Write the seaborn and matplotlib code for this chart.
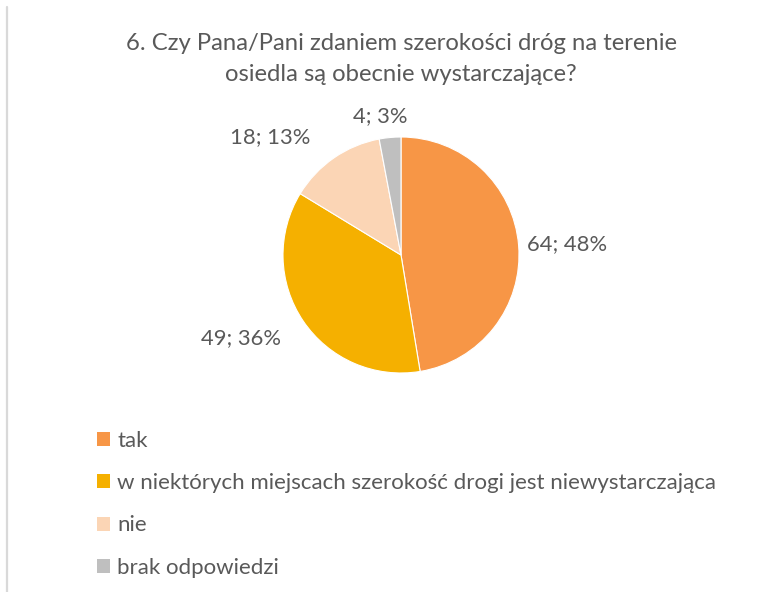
import matplotlib
matplotlib.use("Agg")
import matplotlib.pyplot as plt
from matplotlib.lines import Line2D
from matplotlib.patches import Patch
import seaborn as sns

categories = ["tak",
              "w niektórych miejscach szerokość drogi jest niewystarczająca",
              "nie",
              "brak odpowiedzi"]
counts = [64, 49, 18, 4]
percent_labels = ["48%", "36%", "13%", "3%"]
colors = ["#F79646", "#F5B000", "#FBD5B5", "#BFBFBF"]
title = "6. Czy Pana/Pani zdaniem szerokości dróg na terenie\nosiedla są obecnie wystarczające?"

sns.set_theme(style="white")
plt.rcParams['font.family'] = ['Lato', 'DejaVu Sans']
txt = "#595959"

W, H = 781, 592
fig = plt.figure(figsize=(W / 100, H / 100), dpi=100)
fig.patch.set_facecolor("white")

cx, cy, r = 401, 592 - 255, 118
ax = fig.add_axes([(cx - r) / W, (cy - r) / H, 2 * r / W, 2 * r / H])
wedges, _ = ax.pie(counts, colors=colors, startangle=90, counterclock=False,
                   radius=1, wedgeprops=dict(linewidth=0.8, edgecolor="white"))
ax.set_xlim(-1, 1)
ax.set_ylim(-1, 1)
ax.set_aspect("equal")
ax.axis("off")

# label offsets (relative to pie radius)
label_pos = [(1.41, 0.09), (-1.36, -0.70), (-1.11, 1.0), (-0.18, 1.18)]
for c, p, (lx, ly) in zip(counts, percent_labels, label_pos):
    ax.text(lx, ly, f"{c}; {p}", ha="center", va="center", fontsize=15.8,
            color=txt, clip_on=False)

fig.text(401 / W, 1 - 59 / H, title, ha="center", va="center", fontsize=17.2,
         color=txt, linespacing=1.62)

handles = [Patch(facecolor=c, edgecolor="none") for c in colors]
leg = fig.legend(handles, categories, loc="upper left",
                 bbox_to_anchor=(77 / W, 1 - 411 / H), frameon=False,
                 fontsize=16, handlelength=0.6, handleheight=0.6,
                 handletextpad=0.3, labelspacing=1.0)
for t in leg.get_texts():
    t.set_color(txt)

fig.add_artist(Line2D([7.5 / W, 7.5 / W], [0, 1 - 7 / H], color="#D9D9D9", lw=1.6))

fig.savefig("out.png", dpi=100, facecolor="white")
